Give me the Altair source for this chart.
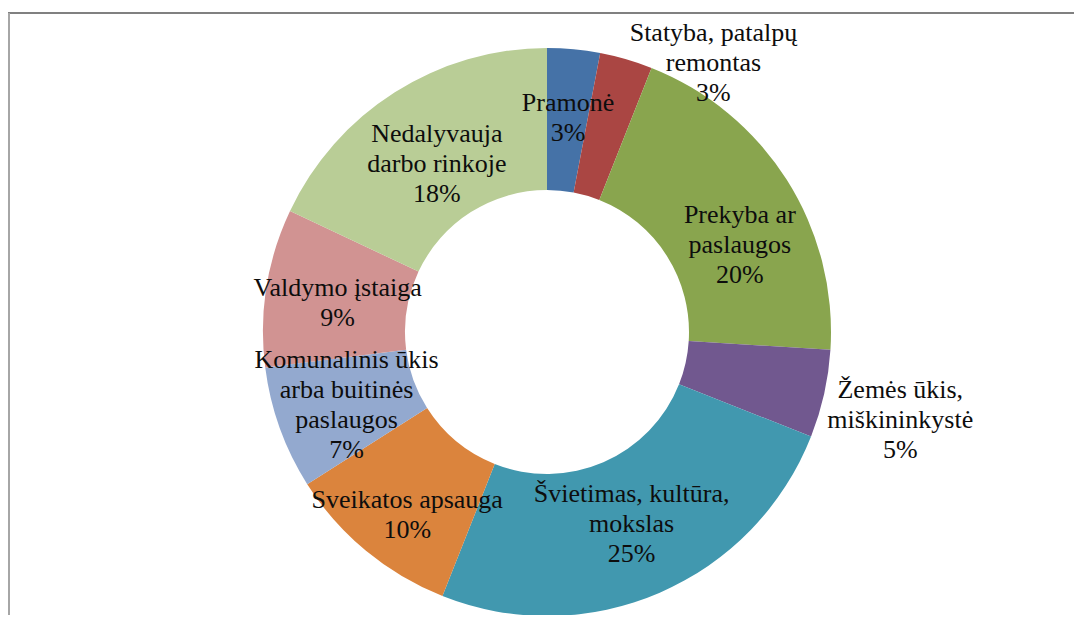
import altair as alt
import pandas as pd

categories = [
    "Pramonė",
    "Statyba, patalpų remontas",
    "Prekyba ar paslaugos",
    "Žemės ūkis, miškininkystė",
    "Švietimas, kultūra, mokslas",
    "Sveikatos apsauga",
    "Komunalinis ūkis arba buitinės paslaugos",
    "Valdymo įstaiga",
    "Nedalyvauja darbo rinkoje",
]
label_lines = [
    "Pramonė",
    "Statyba, patalpų\nremontas",
    "Prekyba ar\npaslaugos",
    "Žemės ūkis,\nmiškininkystė",
    "Švietimas, kultūra,\nmokslas",
    "Sveikatos apsauga",
    "Komunalinis ūkis\narba buitinės\npaslaugos",
    "Valdymo įstaiga",
    "Nedalyvauja\ndarbo rinkoje",
]
values = [3, 3, 20, 5, 25, 10, 7, 9, 18]
colors = ["#4572A7", "#AA4643", "#89A54E", "#71588F", "#4198AF",
          "#DB843D", "#93A9CF", "#D19392", "#B9CD96"]

total = sum(values)
df = pd.DataFrame({
    "category": categories,
    "label": label_lines,
    "value": values,
    "order": list(range(len(values))),
})

base = alt.Chart(df).transform_window(
    cum="sum(value)", frame=[None, 0], sort=[alt.SortField("order")]
).transform_calculate(
    start="datum.cum - datum.value",
    mid="datum.cum - datum.value / 2",
    text="datum.label + '\\n' + datum.value + '%'",
)

theta_scale = alt.Scale(domain=[0, total])

arcs = base.mark_arc(innerRadius=142, outerRadius=284).encode(
    theta=alt.Theta("start:Q", scale=theta_scale),
    theta2="cum:Q",
    color=alt.Color("category:N", scale=alt.Scale(domain=categories, range=colors), legend=None),
)

FONT = "Liberation Serif"

# label placement (layout only): radius, dx, dy per category index
label_layout = {
    0: (213, 1, -17),
    1: (213, 107, -94),
    2: (213, 13, -3),
    3: (362, 0, -21),
    4: (213, 0, -33),
    5: (213, -4, 4),
    6: (213, 0, -44),
    7: (213, 1, -11),
    8: (213, 4, -18),
}


def label(i):
    r, dx, dy = label_layout[i]
    return base.transform_filter(
        alt.FieldEqualPredicate(field="category", equal=categories[i])
    ).mark_text(
        radius=r, dx=dx, dy=dy, font=FONT, fontSize=26, lineHeight=30,
        lineBreak="\n", color="#0d0d0d", align="center", baseline="middle",
    ).encode(
        theta=alt.Theta("mid:Q", scale=theta_scale),
        text="text:N",
    )


label_layers = [label(i) for i in range(len(categories))]

frame_top = alt.Chart(df).mark_rule(color="#808080", strokeWidth=2).encode(
    x=alt.value(-14), x2=alt.value(1060), y=alt.value(-36)
)
frame_left = alt.Chart(df).mark_rule(color="#a6a6a6", strokeWidth=1.5).encode(
    x=alt.value(-13), y=alt.value(-36), y2=alt.value(570)
)

chart = alt.layer(
    arcs, *label_layers, frame_top, frame_left
).properties(
    width=1050, height=566,
    padding={"left": 14, "top": 41, "right": 2, "bottom": 0},
    autosize=alt.AutoSizeParams(type="none"),
    background="white",
).configure_view(stroke="transparent", strokeWidth=0)

chart.save("out.html", embed_options={"renderer": "svg", "actions": False})
